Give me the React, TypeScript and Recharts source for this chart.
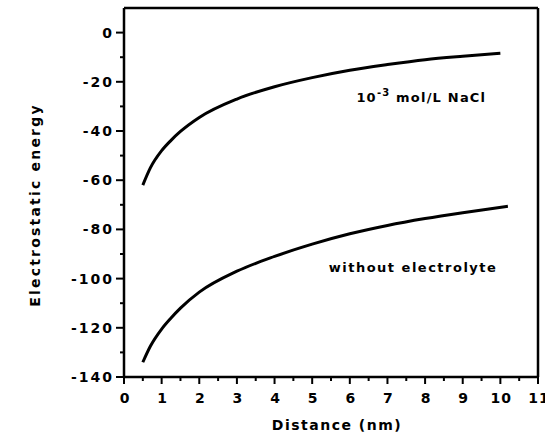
import React from "react";
import { LineChart, Line, XAxis, YAxis, ReferenceLine, ReferenceDot, Customized } from "recharts";

const naclX = [0.5, 0.7, 1, 1.25, 1.5, 2, 3, 4, 5, 6, 7, 8, 9, 10];
const naclY = [-62, -55, -48, -43.8, -40.2, -34.5, -27, -22, -18.3, -15.3, -13, -11, -9.6, -8.4];

const noElecX = [0.5, 0.7, 1, 1.25, 1.5, 2, 3, 4, 5, 6, 7, 8, 9, 10.2];
const noElecY = [-134, -127.5, -120.5, -116, -112, -105.5, -97, -91, -86, -81.8, -78.4, -75.6, -73.2, -70.6];

const xTicks = [0, 0.5, 1, 1.5, 2, 2.5, 3, 3.5, 4, 4.5, 5, 5.5, 6, 6.5, 7, 7.5, 8, 8.5, 9, 9.5, 10, 10.5, 11];
const yTicks = [-140, -130, -120, -110, -100, -90, -80, -70, -60, -50, -40, -30, -20, -10, 0];

const naclData = naclX.map((x, i) => ({ x, y: naclY[i] }));
const noElecData = noElecX.map((x, i) => ({ x, y: noElecY[i] }));

const FONT = "'DejaVu Sans', sans-serif";

const XTick = (props: any) => {
  const { x, y, payload } = props;
  const v = payload.value;
  const major = Number.isInteger(v);
  return (
    <g>
      <line x1={x} x2={x} y1={y} y2={y + (major ? 7 : 4)} stroke="#000" strokeWidth={2} />
      {major && (
        <text x={x + 1} y={y + 26} textAnchor="middle" fontFamily={FONT} fontWeight="bold" fontSize={14} letterSpacing={1} fill="#000">
          {v}
        </text>
      )}
    </g>
  );
};

const YTick = (props: any) => {
  const { x, y, payload } = props;
  const v = payload.value;
  const major = v % 20 === 0;
  return (
    <g>
      <line x1={x} x2={x - (major ? 8 : 4)} y1={y} y2={y} stroke="#000" strokeWidth={2} />
      {major && (
        <text x={x - 10} y={y + 5} textAnchor="end" fontFamily={FONT} fontWeight="bold" fontSize={14} letterSpacing={2} fill="#000">
          {v}
        </text>
      )}
    </g>
  );
};

const Titles = () => (
  <g>
    <text x={337} y={430} textAnchor="middle" fontFamily={FONT} fontWeight="bold" fontSize={14} letterSpacing={1.5} fill="#000">
      Distance (nm)
    </text>
    <text x={40} y={205} textAnchor="middle" transform="rotate(-90 40 205)" fontFamily={FONT} fontWeight="bold" fontSize={14} letterSpacing={2.2} fill="#000">
      Electrostatic energy
    </text>
  </g>
);

export default function App() {
  return (
    <div style={{ position: "absolute", left: 0, top: 0, background: "#fff" }}>
      <LineChart width={545} height={440} margin={{ top: 8, right: 7, bottom: 0, left: 0 }}>
        <XAxis
          type="number"
          dataKey="x"
          domain={[0, 11]}
          ticks={xTicks}
          interval={0}
          height={63}
          tickSize={0}
          tickMargin={0}
          tickLine={false}
          tick={<XTick />}
          axisLine={{ stroke: "#000", strokeWidth: 2.5 }}
          allowDataOverflow
        />
        <YAxis
          type="number"
          dataKey="y"
          domain={[-140, 10]}
          ticks={yTicks}
          interval={0}
          width={124}
          tickSize={0}
          tickMargin={0}
          tickLine={false}
          tick={<YTick />}
          axisLine={{ stroke: "#000", strokeWidth: 2.5 }}
          allowDataOverflow
        />
        <ReferenceLine y={10} stroke="#000" strokeWidth={2.5} />
        <ReferenceLine x={11} stroke="#000" strokeWidth={2.5} />
        <Line data={naclData} dataKey="y" type="monotone" stroke="#000" strokeWidth={3} dot={false} isAnimationActive={false} />
        <Line data={noElecData} dataKey="y" type="monotone" stroke="#000" strokeWidth={3} dot={false} isAnimationActive={false} />
        <ReferenceDot
          x={7.9}
          y={-26.2}
          r={0}
          shape={(p: any) => (
            <text x={p.cx} y={p.cy + 5} textAnchor="middle" fontFamily={FONT} fontWeight="bold" fontSize={13} letterSpacing={1.2} fill="#000">
              10<tspan dy={-6} fontSize={10}>-3</tspan>
              <tspan dy={6}> mol/L NaCl</tspan>
            </text>
          )}
        />
        <ReferenceDot
          x={7.68}
          y={-95.3}
          r={0}
          shape={(p: any) => (
            <text x={p.cx} y={p.cy + 5} textAnchor="middle" fontFamily={FONT} fontWeight="bold" fontSize={13} letterSpacing={1.5} fill="#000">
              without electrolyte
            </text>
          )}
        />
        <Customized component={Titles} />
      </LineChart>
    </div>
  );
}
